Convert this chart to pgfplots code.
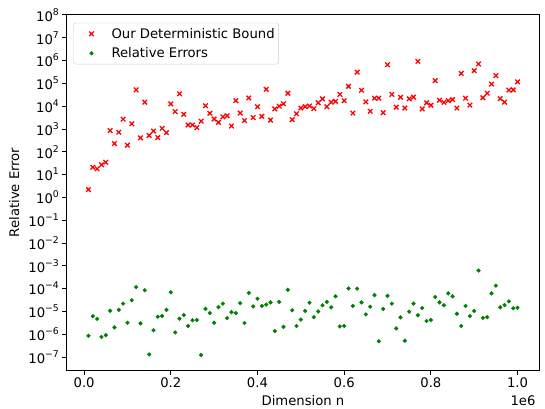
\documentclass[border=0pt]{standalone}
\usepackage{fontspec}
\setmainfont{DejaVu Sans}
\usepackage{pgfplots}
\usepackage{pgfplotstable}
\pgfplotsset{compat=1.18}
\definecolor{mplgreen}{RGB}{0,128,0}
\newcommand{\fs}{\fontsize{13.2}{15.5}\selectfont}
\newcommand{\ep}[1]{10\raisebox{0.45em}{\fontsize{9.3}{10}\selectfont #1}}
\pgfplotsset{
  mplmark/.style={legend image code/.code={%
    \path[draw=none, fill=none] (0pt,0pt) (34pt,0pt);
    \draw[##1] plot coordinates {(16pt,0pt)};}},
}

% n, bound, relative error
\pgfplotstableread{
n bound err
10000 2.2 8.5e-7
20000 21 6.2e-6
30000 18 4.7e-6
40000 27 7.6e-7
50000 35 9.1e-7
60000 850 1.07e-5
70000 230 2.0e-6
80000 720 1.17e-5
90000 2700 2.2e-5
100000 195 3.2e-6
110000 1700 3.1e-5
120000 52000 1.17e-4
130000 410 3.0e-6
140000 15000 8.5e-5
150000 520 1.3e-7
160000 810 1.5e-6
170000 420 5.9e-6
180000 1070 6.3e-6
190000 690 1.17e-5
200000 12600 6.9e-5
210000 5800 1.2e-6
220000 35000 4.8e-6
230000 4400 6.9e-6
240000 1500 2.3e-6
250000 1500 4.1e-6
260000 1150 4.2e-6
270000 2200 1.23e-7
280000 10500 1.29e-5
290000 4900 8.5e-6
300000 2750 3.2e-6
310000 1950 1.55e-5
320000 3400 2.2e-5
330000 3800 5.1e-6
340000 1350 9.3e-6
350000 17400 8.5e-6
360000 5000 2.3e-5
370000 2350 3.1e-6
380000 23000 6.5e-5
390000 3160 1.66e-5
400000 9500 3.6e-5
410000 3600 1.74e-5
420000 55000 2.0e-5
430000 2450 2.5e-5
440000 7600 1.38e-6
450000 10000 2.6e-5
460000 12900 2.1e-6
470000 37000 8.9e-5
480000 2570 1.12e-5
490000 4700 2.3e-6
500000 8300 4.4e-6
510000 9500 1.05e-5
520000 10200 2.4e-5
530000 7800 5.6e-6
540000 14100 1.0e-5
550000 21000 1.86e-5
560000 9500 2.6e-5
570000 15000 1.51e-5
580000 16200 4.6e-5
590000 33000 2.2e-6
600000 17400 2.3e-6
610000 74000 1.02e-4
620000 5000 1.74e-5
630000 310000 1.0e-4
640000 50000 2.5e-5
650000 15500 7.4e-6
660000 6000 1.62e-5
670000 22400 5.2e-5
680000 22400 4.9e-7
690000 5200 1.29e-5
700000 660000 4.8e-5
710000 33000 2.2e-5
720000 9100 1.8e-6
730000 24500 5.5e-6
740000 8300 5.2e-7
750000 21000 9.8e-6
760000 25000 2.2e-5
770000 930000 6.8e-6
780000 7600 1.41e-5
790000 14100 3.8e-6
800000 11000 4.2e-6
810000 132000 4.3e-5
820000 18200 2.5e-5
830000 14800 1.86e-5
840000 17400 6.2e-5
850000 19500 4.6e-5
860000 8300 7.9e-6
870000 275000 2.3e-6
880000 22400 1.74e-5
890000 11200 6.2e-6
900000 363000 1.05e-5
910000 710000 6.2e-4
920000 23400 5.2e-6
930000 37000 5.6e-6
940000 93000 6.2e-5
950000 219000 1.35e-4
960000 21400 1.51e-5
970000 15000 1.9e-5
980000 51000 2.75e-5
990000 52000 1.38e-5
1000000 117000 1.45e-5
}\datatable

\begin{document}
\begin{tikzpicture}
\begin{axis}[
  name=ax,
  scale only axis, width=472pt, height=355pt,
  xmin=-39500, xmax=1049500,
  ymode=log, ymin=2.7e-8, ymax=1e8,
  axis line style={line width=1pt},
  tick align=outside, tick pos=left,
  major tick length=4.6pt,
  every tick/.style={black, line width=1pt},
  yminorticks=false,
  tick label style={font=\fs},
  label style={font=\fs},
  xtick={0,200000,400000,600000,800000,1000000},
  xticklabels={0.0,0.2,0.4,0.6,0.8,1.0},
  scaled x ticks=false,
  ytick={1e-7,1e-6,1e-5,1e-4,1e-3,1e-2,1e-1,1,1e1,1e2,1e3,1e4,1e5,1e6,1e7,1e8},
  yticklabels={\ep{−7},\ep{−6},\ep{−5},\ep{−4},\ep{−3},\ep{−2},\ep{−1},\ep{0},\ep{1},\ep{2},\ep{3},\ep{4},\ep{5},\ep{6},\ep{7},\ep{8}},
  xlabel={Dimension n}, ylabel={Relative Error},
  x label style={at={(axis description cs:0.5,-0.1)}, anchor=base},
  y label style={at={(axis description cs:-0.112,0.5)}, anchor=center},
  legend style={at={(0.0134,0.978)}, anchor=north west, draw=black!20,
    rounded corners=2pt, inner xsep=2pt, inner ysep=3pt, row sep=4pt,
    font=\fs},
  legend cell align=left,
]
\addplot[only marks, mark=x, mark size=3.2pt, red, line width=1.3pt, mplmark]
  table[x=n, y=bound] {\datatable};
\addlegendentry{Our Deterministic Bound}
\addplot[only marks, mark=*, mark size=1.9pt, mplgreen, mplmark]
  table[x=n, y=err] {\datatable};
\addlegendentry{Relative Errors}
\end{axis}
\node[anchor=base east, font=\fs] at ([yshift=-35.5pt]ax.south east) {1e6};
\path (ax.south west) ++(-67pt,-38pt) coordinate (bl);
\path (ax.north east) ++(6pt,15pt) coordinate (tr);
\pgfresetboundingbox
\path[use as bounding box] (bl) rectangle (tr);
\end{tikzpicture}
\end{document}
